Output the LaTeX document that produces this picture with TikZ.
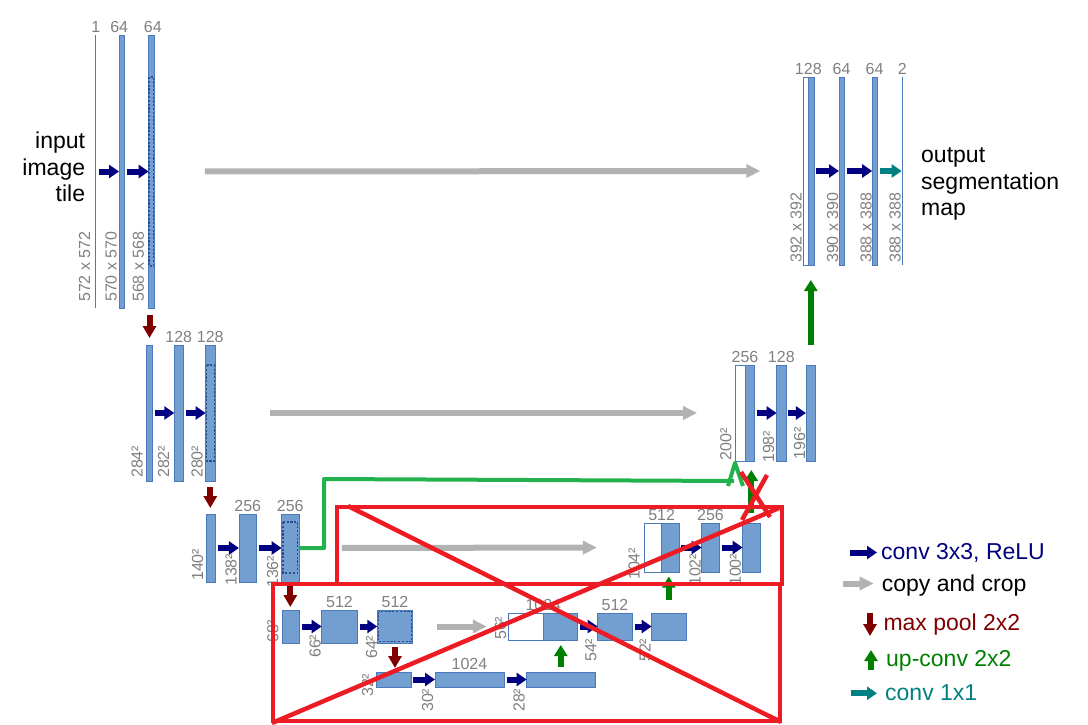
\documentclass[tikz,border=0pt]{standalone}
\usepackage{fontspec}
\setmainfont{Liberation Sans}
\usetikzlibrary{arrows.meta,positioning}
\definecolor{barfill}{RGB}{114,159,207}
\definecolor{barline}{RGB}{74,122,188}
\definecolor{cropblue}{RGB}{40,78,150}
\definecolor{numgray}{RGB}{128,128,128}
\definecolor{convblue}{RGB}{0,0,128}
\definecolor{copygray}{RGB}{178,178,178}
\definecolor{poolred}{RGB}{128,0,0}
\definecolor{upgreen}{RGB}{0,128,0}
\definecolor{convteal}{RGB}{0,128,128}
\definecolor{markred}{RGB}{237,28,36}
\definecolor{markgreen}{RGB}{34,177,76}
\begin{document}
\begin{tikzpicture}[x=1pt, y=-1pt,
    bar/.style={draw=barline, fill=barfill, line width=0.8pt, inner sep=0pt, outer sep=0pt},
    catbar/.style={bar, fill=white},
    thinbar/.style={fill=barline, inner sep=0pt, outer sep=0pt, minimum width=1.4pt},
    numlbl/.style={text=numgray, font=\fontsize{16}{18}\selectfont, inner sep=0pt},
    dimlbl/.style={numlbl, rotate=90, anchor=west},
    bigtxt/.style={font=\fontsize{23}{26.3}\selectfont, inner sep=0pt},
    conv/.style={color=convblue, line width=6pt, -{Triangle[length=10pt,width=13pt]}, shorten <=2.5pt},
    copyarr/.style={color=copygray, line width=6pt, -{Triangle[length=14pt,width=13pt]}},
    pool/.style={color=poolred, line width=6pt, -{Triangle[length=12pt,width=13pt]}},
    upconv/.style={color=upgreen, line width=6pt, -{Triangle[length=11pt,width=13pt]}},
    cropline/.style={draw=cropblue, dash pattern=on 2.2pt off 1.6pt, line width=1.2pt},
    redmark/.style={draw=markred, line width=4.5pt},
    greenmark/.style={draw=markgreen, line width=4pt, line join=round}]
    \useasboundingbox (0,0) rectangle (1088,725);

    \node[thinbar, minimum height=273pt] (l1a) at (95.7,171.5) {};
    \node[bar, minimum width=5.3pt, minimum height=273pt] (l1b) at (121.7,171.5) {};
    \node[bar, minimum width=5.3pt, minimum height=273pt] (l1c) at (151.3,171.5) {};
    \node[bar, minimum width=5.6pt, minimum height=136pt] (l2a) at (149.5,413) {};
    \node[bar, minimum width=9pt, minimum height=136pt] (l2b) at (178.8,413) {};
    \node[bar, minimum width=9.3pt, minimum height=136pt] (l2c) at (210.3,413) {};
    \node[bar, minimum width=9pt, minimum height=68pt] (l3a) at (211.2,548) {};
    \node[bar, minimum width=17.7pt, minimum height=68pt] (l3b) at (247.8,548) {};
    \node[bar, minimum width=17.3pt, minimum height=68pt] (l3c) at (290.3,548) {};
    \node[bar, minimum width=17pt, minimum height=33pt] (l4a) at (290.8,626.5) {};
    \node[bar, minimum width=35.6pt, minimum height=33pt] (l4b) at (339.5,626.5) {};
    \node[bar, minimum width=35.4pt, minimum height=33pt] (l4c) at (395,626.5) {};
    \node[bar, minimum width=34.3pt, minimum height=15pt] (b5a) at (393.8,679.5) {};
    \node[bar, minimum width=69pt, minimum height=15pt] (b5b) at (469.5,679.5) {};
    \node[bar, minimum width=68.3pt, minimum height=15pt] (b5c) at (560.8,679.5) {};
    \node[catbar, minimum width=35pt, minimum height=27pt] (w4) at (525.8,626.5) {};
    \node[bar, minimum width=34.4pt, minimum height=27pt] (r4a) at (560.5,626.5) {};
    \node[bar, minimum width=34.6pt, minimum height=27pt] (r4b) at (615,626.5) {};
    \node[bar, minimum width=34.3pt, minimum height=27pt] (r4c) at (668.8,626.5) {};
    \node[catbar, minimum width=17.7pt, minimum height=49pt] (w3) at (652.8,547.5) {};
    \node[bar, minimum width=17.3pt, minimum height=49pt] (r3a) at (670.3,547.5) {};
    \node[bar, minimum width=17.6pt, minimum height=49pt] (r3b) at (710.5,547.5) {};
    \node[bar, minimum width=17.3pt, minimum height=49pt] (r3c) at (751.3,547.5) {};
    \node[catbar, minimum width=9.3pt, minimum height=96pt] (w2) at (740.3,413) {};
    \node[bar, minimum width=9.7pt, minimum height=96pt] (r2a) at (749.8,413) {};
    \node[bar, minimum width=9.3pt, minimum height=96pt] (r2b) at (781.3,413) {};
    \node[bar, minimum width=9.7pt, minimum height=96pt] (r2c) at (810.8,413) {};
    \node[catbar, minimum width=5pt, minimum height=188pt] (w1) at (805.8,171) {};
    \node[bar, minimum width=5.7pt, minimum height=188pt] (r1a) at (811.1,171) {};
    \node[bar, minimum width=5pt, minimum height=188pt] (r1b) at (841.5,171) {};
    \node[bar, minimum width=4.8pt, minimum height=188pt] (r1c) at (874.6,171) {};
    \node[thinbar, minimum height=188pt] (r1d) at (902.4,171) {};

    \draw[cropline] (148.9,77) rectangle (153.7,266);
    \draw[cropline] (206.5,365) rectangle (214.1,461);
    \draw[cropline] (283,522) rectangle (297.6,573);
    \draw[cropline] (378.5,611.5) rectangle (411.5,641.5);

    \node[numlbl, above=2pt of l1a] (n1a) {1};
    \node[numlbl, above=2pt of l1b, xshift=-2.5pt] (n1b) {64};
    \node[numlbl, above=2pt of l1c, xshift=1.5pt] (n1c) {64};
    \node[numlbl, above=2pt of l2b] (n2b) {128};
    \node[numlbl, above=2pt of l2c] (n2c) {128};
    \node[numlbl, above=2pt of l3b] (n3b) {256};
    \node[numlbl, above=2pt of l3c] (n3c) {256};
    \node[numlbl, above=2pt of l4b] (n4b) {512};
    \node[numlbl, above=2pt of l4c] (n4c) {512};
    \node[numlbl, above=2pt of b5b] (n5b) {1024};
    \node[numlbl, above=2pt of w4.north east] (m4w) {1024};
    \node[numlbl, above=2pt of r4b] (m4b) {512};
    \node[numlbl, above=2pt of w3.north east] (m3w) {512};
    \node[numlbl, above=2pt of r3b] (m3b) {256};
    \node[numlbl, above=2pt of w2.north east] (m2w) {256};
    \node[numlbl, above=2pt of r2b] (m2b) {128};
    \node[numlbl, above=2pt of w1.north east] (m1w) {128};
    \node[numlbl, above=2pt of r1b] (m1b) {64};
    \node[numlbl, above=2pt of r1c] (m1c) {64};
    \node[numlbl, above=2pt of r1d] (m1d) {2};

    \node[dimlbl] (d1a) at (84.5,302) {572 x 572};
    \node[dimlbl] (d1b) at (111.2,302) {570 x 570};
    \node[dimlbl] (d1c) at (138.3,302) {568 x 568};
    \node[dimlbl] (d2a) at (137,478) {284²};
    \node[dimlbl] (d2b) at (163.5,478) {282²};
    \node[dimlbl] (d2c) at (197,478) {280²};
    \node[dimlbl] (d3a) at (197.5,581) {140²};
    \node[dimlbl] (d3b) at (231.2,586) {138²};
    \node[dimlbl] (d3c) at (272.5,588) {136²};
    \node[dimlbl] (d4a) at (272.8,643) {68²};
    \node[dimlbl] (d4b) at (315,658) {66²};
    \node[dimlbl] (d4c) at (371.7,659) {64²};
    \node[dimlbl] (d5a) at (367.5,697) {32²};
    \node[dimlbl] (d5b) at (427.5,712) {30²};
    \node[dimlbl] (d5c) at (519,712) {28²};
    \node[dimlbl] (e4a) at (500.5,640) {56²};
    \node[dimlbl] (e4b) at (590.8,662) {54²};
    \node[dimlbl] (e4c) at (645,662) {52²};
    \node[dimlbl] (e3a) at (634,580) {104²};
    \node[dimlbl] (e3b) at (695,586) {102²};
    \node[dimlbl] (e3c) at (735.3,586) {100²};
    \node[dimlbl] (e2a) at (725.8,460.5) {200²};
    \node[dimlbl] (e2b) at (768.7,463) {198²};
    \node[dimlbl] (e2c) at (799.5,459.5) {196²};
    \node[dimlbl] (e1a) at (796,263) {392 x 392};
    \node[dimlbl] (e1b) at (832.7,263) {390 x 390};
    \node[dimlbl] (e1c) at (866,263) {388 x 388};
    \node[dimlbl] (e1d) at (895,263) {388 x 388};

    \node[bigtxt, align=right, anchor=east] (inp) at (85.3,167) {input\\image\\tile};
    \node[bigtxt, align=left, anchor=west] (outp) at (921,184) {output\\segmentation\\map};

    \draw[conv] (l1a) -- (l1b);
    \draw[conv] (l1b) -- (l1c);
    \draw[conv] (l2a) -- (l2b);
    \draw[conv] (l2b) -- (l2c);
    \draw[conv] (l3a) -- (l3b);
    \draw[conv] (l3b) -- (l3c);
    \draw[conv] (l4a) -- (l4b);
    \draw[conv] (l4b) -- (l4c);
    \draw[conv] (b5a) -- (b5b);
    \draw[conv] (b5b) -- (b5c);
    \draw[conv] (r4a) -- (r4b);
    \draw[conv] (r4b) -- (r4c);
    \draw[conv] (r3a) -- (r3b);
    \draw[conv] (r3b) -- (r3c);
    \draw[conv] (r2a) -- (r2b);
    \draw[conv] (r2b) -- (r2c);
    \draw[conv] (r1a) -- (r1b);
    \draw[conv] (r1b) -- (r1c);
    \draw[conv, color=convteal] (r1c) -- (r1d);

    \draw[copyarr, shorten <=51pt, shorten >=43pt] (l1c) -- (w1);
    \draw[copyarr, shorten <=55pt, shorten >=38.5pt] (l2c) -- (w2);
    \draw[copyarr, shorten <=43pt, shorten >=47pt] (l3c) -- (w3);
    \draw[copyarr, shorten <=24pt, shorten >=21.5pt] (l4c) -- (w4);

    \draw[pool, shorten <=7pt, shorten >=7pt] (l2a.north |- l1c.south) -- (l2a.north);
    \draw[pool, shorten <=6pt, shorten >=6pt] (l2c.south) -- (l2c.south |- l3a.north);
    \draw[pool, shorten <=4pt, shorten >=3pt] (l3c.south) -- (l3c.south |- l4a.north);
    \draw[pool, shorten <=4pt, shorten >=4pt] (l4c.south) -- (l4c.south |- b5a.north);

    \draw[upconv, shorten <=5pt, shorten >=5pt] (b5c.north) -- (b5c.north |- r4a.south);
    \draw[upconv, shorten <=13pt, shorten >=4.5pt] (r4c.north) -- (r4c.north |- r3a.south);
    \draw[upconv, shorten <=10pt, shorten >=9pt] (r3c.north) -- (r3c.north |- r2a.south);
    \draw[upconv, shorten <=20pt, shorten >=15pt] (r2c.north) -- (r2c.north |- r1a.south);

    \node[bigtxt, text=convblue, anchor=base west] (t1) at (881,559.3) {conv 3x3, ReLU};
    \node[bigtxt, anchor=base west] (t2) at (881.7,591.7) {copy and crop};
    \node[bigtxt, text=poolred, anchor=base west] (t3) at (883.3,630) {max pool 2x2};
    \node[bigtxt, text=upgreen, anchor=base west] (t4) at (886,666.7) {up-conv 2x2};
    \node[bigtxt, text=convteal, anchor=base west] (t5) at (885,700) {conv 1x1};
    \coordinate (k1) at (850,552.5);
    \coordinate (k2) at (843.3,583.5);
    \coordinate (k3a) at (870,613);
    \coordinate (k3b) at (870,636);
    \coordinate (k4a) at (871,670);
    \coordinate (k4b) at (871,650);
    \coordinate (k5) at (850.7,693.3);
    \draw[conv, shorten <=0pt, shorten >=4pt] (k1) -- (k1 -| t1.west);
    \draw[copyarr, shorten >=8pt] (k2) -- (k2 -| t2.west);
    \draw[pool] (k3a) -- (k3b);
    \draw[upconv] (k4a) -- (k4b);
    \draw[conv, color=convteal, shorten <=0pt, shorten >=8pt] (k5) -- (k5 -| t5.west);

    \draw[greenmark] (l3c.east) -- (324,548) -- (324,479) -- (734,481);
    \draw[greenmark] (728,486) -- (735,463) -- (743,486);

    \draw[redmark] (337,507) rectangle (782,584);
    \draw[redmark] (273,584) rectangle (780,721);
    \draw[redmark] (348,506) -- (781,722);
    \draw[redmark] (272,723) -- (779,508);
    \draw[redmark] (741,472) -- (770,517);
    \draw[redmark] (767,475) -- (742,520);
\end{tikzpicture}
\end{document}
